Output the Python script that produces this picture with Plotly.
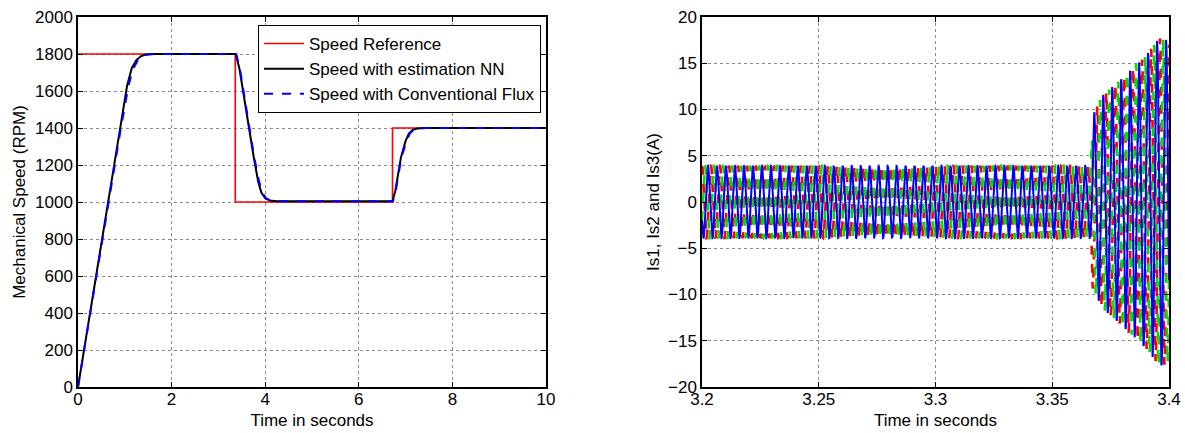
import numpy as np
import plotly.graph_objects as go

# ---------------- Left chart data ----------------
ref_t = [0, 3.36, 3.36, 6.72, 6.72, 10]
ref_v = [1800, 1800, 1000, 1000, 1400, 1400]

nn_t = [0, 0.3, 0.6, 0.9, 1.05, 1.15, 1.25, 1.35, 1.45, 1.6, 3.37, 3.45, 3.6, 3.75, 3.85,
        3.92, 4.0, 4.1, 4.25, 6.72, 6.78, 6.9, 7.0, 7.07, 7.15, 7.25, 7.4, 10]
nn_v = [0, 470, 940, 1400, 1630, 1725, 1768, 1789, 1797, 1800, 1800, 1720, 1480, 1250, 1110,
        1050, 1020, 1008, 1004, 1004, 1060, 1240, 1330, 1370, 1390, 1397, 1400, 1400]

conv_t = [0, 0.3, 0.6, 0.9, 1.08, 1.18, 1.28, 1.38, 1.48, 1.63, 3.38, 3.46, 3.61, 3.76, 3.87,
          3.94, 4.02, 4.12, 4.27, 6.73, 6.79, 6.91, 7.02, 7.09, 7.17, 7.27, 7.42, 10]
conv_v = [0, 450, 915, 1375, 1630, 1722, 1766, 1788, 1797, 1800, 1800, 1720, 1480, 1250, 1110,
          1050, 1020, 1008, 1004, 1004, 1060, 1240, 1330, 1370, 1390, 1397, 1400, 1400]

# ---------------- Right chart data ----------------
env_t = [3.2, 3.3665, 3.3672, 3.3715, 3.3796, 3.3902, 3.3957, 3.3991, 3.4]
env_a = [3.9, 3.9, 9.3, 11.5, 13.3, 15.8, 17.7, 17.5, 17.0]
freq_hz = [260.0]
phase_deg = [90.0, -30.0, 210.0]  # Is1, Is2, Is3
phase_names = ["Is1", "Is2", "Is3"]
phase_colors = ["#ff0000", "#00e000", "#0000ff"]
phase_dash = ["dash", "dash", "solid"]

ts = np.arange(3.2, 3.4 + 1e-9, 0.00004)
amp = np.interp(ts, env_t, env_a)

FONT = "Liberation Sans, Arial"
FS = 17

fig = go.Figure()

fig.add_trace(go.Scatter(x=ref_t, y=ref_v, mode="lines", name="Speed Reference",
                         line=dict(color="#ff0000", width=1.6), xaxis="x", yaxis="y"))
fig.add_trace(go.Scatter(x=nn_t, y=nn_v, mode="lines", name="Speed with estimation NN",
                         line=dict(color="#000000", width=2), xaxis="x", yaxis="y"))
fig.add_trace(go.Scatter(x=conv_t, y=conv_v, mode="lines", name="Speed with Conventional Flux",
                         line=dict(color="#0000ff", width=2, dash="dash"), xaxis="x", yaxis="y"))

for name, ph, col, dsh in zip(phase_names, phase_deg, phase_colors, phase_dash):
    y = amp * np.sin(2 * np.pi * freq_hz[0] * (ts - 3.2) + np.deg2rad(ph))
    fig.add_trace(go.Scatter(x=ts, y=y, mode="lines", name=name, showlegend=False,
                             line=dict(color=col, width=2.6 if dsh == "dash" else 2, dash=dsh),
                             xaxis="x2", yaxis="y2"))

axis_common = dict(showline=True, linecolor="black", linewidth=1.5, mirror="allticks",
                   ticks="inside", ticklen=5, tickcolor="black", showgrid=True,
                   gridcolor="#8a8a8a", griddash="dot", gridwidth=1, zeroline=False,
                   automargin=False,
                   tickfont=dict(family=FONT, size=FS, color="black"))

fig.update_layout(
    width=1185, height=433,
    margin=dict(l=0, r=0, t=0, b=0),
    paper_bgcolor="white", plot_bgcolor="white",
    font=dict(family=FONT, size=FS, color="black"),
    xaxis=dict(domain=[78/1185, 546/1185], range=[0, 10], dtick=2, anchor="y",
               ticklabelstandoff=-4,
               title=dict(text="Time in seconds", standoff=6, font=dict(size=FS)), **axis_common),
    yaxis=dict(domain=[(433-387)/433, (433-17)/433], range=[0, 2000], dtick=200, anchor="x",
               title=dict(text="Mechanical Speed (RPM)", standoff=5, font=dict(size=FS)), **axis_common),
    xaxis2=dict(domain=[702/1185, 1169/1185], range=[3.2, 3.4], dtick=0.05, anchor="y2",
                ticklabelstandoff=-4,
                title=dict(text="Time in seconds", standoff=6, font=dict(size=FS)), **axis_common),
    yaxis2=dict(domain=[(433-387)/433, (433-17)/433], range=[-20, 20], dtick=5, anchor="x2",
                title=dict(text="Is1, Is2 and Is3(A)", standoff=4, font=dict(size=FS)), **axis_common),
    legend=dict(x=258/1185, y=(433-25)/433, xanchor="left", yanchor="top",
                bgcolor="white", bordercolor="black", borderwidth=1,
                font=dict(family=FONT, size=FS, color="black"),
                tracegroupgap=0, itemwidth=40),
)

fig.write_html("out.html")
